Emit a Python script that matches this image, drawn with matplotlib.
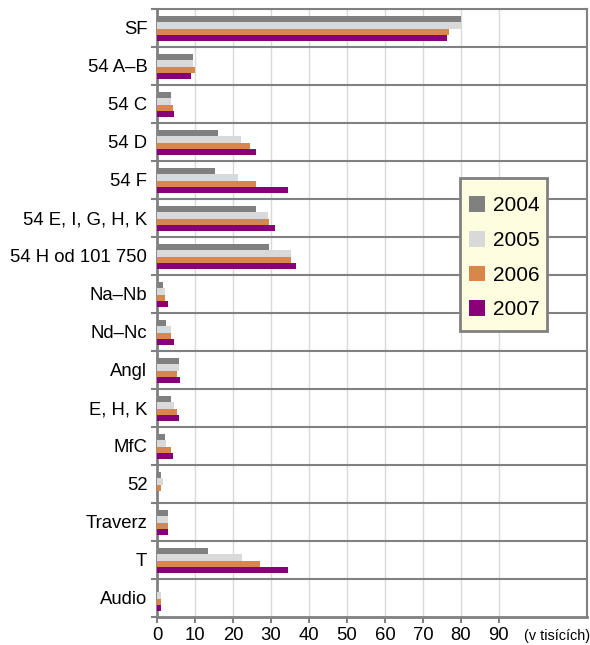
import numpy as np
import matplotlib.pyplot as plt
from matplotlib.patches import Patch, Rectangle

plt.rcParams['font.family'] = ['Liberation Sans', 'DejaVu Sans']

# data (v tisících)
categories = ["SF", "54 A–B", "54 C", "54 D", "54 F", "54 E, I, G, H, K",
              "54 H od 101 750", "Na–Nb", "Nd–Nc", "Angl", "E, H, K", "MfC",
              "52", "Traverz", "T", "Audio"]
years = ["2004", "2005", "2006", "2007"]
v2004 = [79.9, 9.4, 3.6, 16.0, 15.2, 26.0, 29.6, 1.5, 2.5, 5.7, 3.6, 2.0, 1.0, 2.8, 13.3, 0.0]
v2005 = [79.9, 9.4, 3.6, 22.0, 21.2, 29.1, 35.4, 2.0, 3.6, 5.7, 4.6, 2.5, 1.5, 2.8, 22.3, 1.0]
v2006 = [77.0, 9.9, 4.1, 24.4, 26.0, 29.6, 35.4, 2.0, 3.6, 5.2, 5.2, 3.6, 1.0, 2.8, 27.0, 1.0]
v2007 = [76.4, 8.9, 4.6, 26.0, 34.6, 31.0, 36.5, 2.8, 4.4, 6.0, 5.7, 4.1, 0.0, 2.8, 34.6, 1.0]
xticks = [0, 10, 20, 30, 40, 50, 60, 70, 80, 90]

colors = ["#808080", "#d9d9d9", "#d8864a", "#880077"]
series = [v2004, v2005, v2006, v2007]

W, H = 590, 645
fig = plt.figure(figsize=(W / 100, H / 100), dpi=100)
ax = fig.add_axes([157/W, 1 - 617/H, 430/W, 608/H])

y = np.arange(len(categories))
h = 0.17
offsets = [-0.24, -0.07, 0.10, 0.27]
for vals, col, off, lab in zip(series, colors, offsets, years):
    ax.barh(y + off, vals, height=h, color=col, label=lab, zorder=3)

ax.set_xlim(0, 113.2)
ax.set_ylim(len(categories) - 0.5, -0.5)

# light vertical grid, dark category separators
for xv in xticks[1:]:
    ax.axvline(xv, color="#d9d9d9", lw=1.0, zorder=1)
for b in np.arange(0.5, len(categories) - 0.5, 1):
    ax.axhline(b, color="#808080", lw=1.5, zorder=2)

ax.set_xticks(xticks)
ax.set_yticks(y)
ax.set_yticklabels(categories)
ax.set_yticks(np.arange(-0.5, len(categories) + 0.5, 1), minor=True)
ax.tick_params(axis="y", which="major", length=0, pad=7, labelsize=13.3)
ax.tick_params(axis="y", which="minor", length=4, width=1.5, color="#808080")
ax.tick_params(axis="x", length=4, width=1.5, color="#808080", labelsize=13.3, pad=3)

for s in ["top", "right"]:
    ax.spines[s].set_color("#808080")
    ax.spines[s].set_linewidth(1.5)
for s in ["left", "bottom"]:
    ax.spines[s].set_color("#808080")
    ax.spines[s].set_linewidth(2)

fig.text(557/W, 1 - 636/H, "(v tisících)", fontsize=10.4, ha="center", va="center")

# legend box drawn separately so its size can match
box = Rectangle((460/W, 1 - 331/H), 87/W, 153/H, transform=fig.transFigure,
                facecolor="#fffde0", edgecolor="#808080", lw=2, zorder=4)
fig.patches.append(box)

handles = [Patch(facecolor=c, edgecolor="none") for c in colors]
leg = fig.legend(handles, years, loc="upper left", bbox_to_anchor=(460/W, 1 - 187/H),
                 fontsize=15, frameon=False, handlelength=0.77,
                 handleheight=0.77, labelspacing=0.75, handletextpad=0.34,
                 borderpad=0.45, borderaxespad=0)
leg.set_zorder(5)

fig.savefig("out.png", dpi=100)
